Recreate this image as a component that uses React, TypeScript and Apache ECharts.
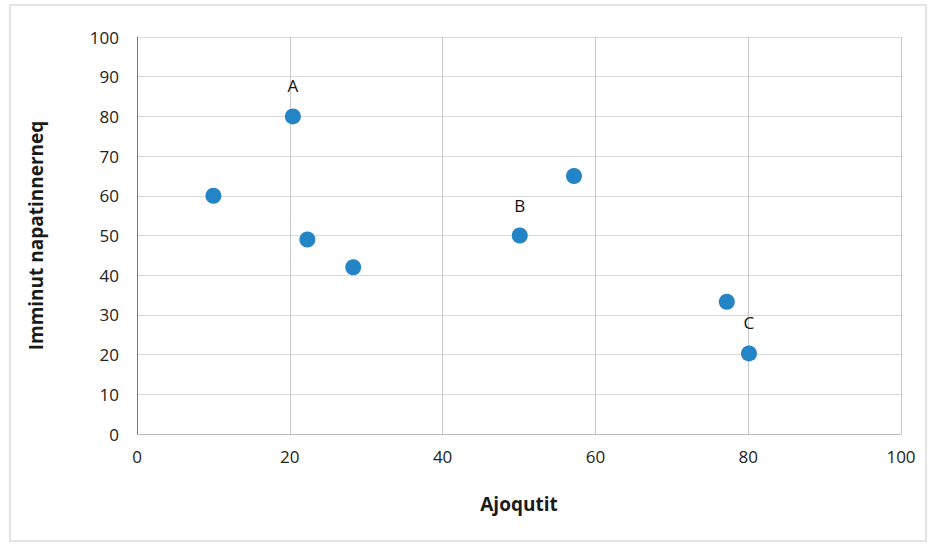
import React, { useEffect, useRef } from "react";
import * as echarts from "echarts";

const xValues = [10, 20.4, 22.3, 28.3, 50.1, 57.2, 77.2, 80.1];
const yValues = [60, 80, 49, 42, 50, 65, 33.3, 20.3];
const pointLabels = ["", "A", "", "", "B", "", "", "C"];
const xTitle = "Ajoqutit";
const yTitle = "Imminut napatinnerneq";

export default function App() {
  const ref = useRef<HTMLDivElement>(null);
  useEffect(() => {
    if (!ref.current) return;
    const chart = echarts.init(ref.current, null, { renderer: "svg" });
    const data = xValues.map((x, i) => ({
      value: [x, yValues[i]],
      label: {
        show: pointLabels[i] !== "",
        formatter: pointLabels[i],
      },
    }));
    chart.setOption({
      animation: false,
      backgroundColor: "#fff",
      textStyle: { fontFamily: "Open Sans" },
      graphic: [
        {
          type: "rect",
          shape: { x: 10, y: 5, width: 916, height: 536 },
          style: { fill: "none", stroke: "#dcdcdc", lineWidth: 1.5 },
          silent: true,
        },
      ],
      grid: { left: 137, right: 36, top: 37, bottom: 115, containLabel: false },
      xAxis: {
        type: "value",
        min: 0,
        max: 100,
        interval: 20,
        name: xTitle,
        nameLocation: "middle",
        nameGap: 60,
        nameTextStyle: { fontSize: 19, fontWeight: "bold", color: "#1a1a1a", fontFamily: "Open Sans" },
        axisLine: { show: true, lineStyle: { color: "#bfbfbf", width: 1 } },
        axisTick: { show: false },
        axisLabel: { fontSize: 17, color: "#222", margin: 14 },
        splitLine: { show: true, lineStyle: { color: "#c8c8c8", width: 1 } },
      },
      yAxis: {
        type: "value",
        min: 0,
        max: 100,
        interval: 10,
        name: yTitle,
        nameLocation: "middle",
        nameGap: 92,
        nameTextStyle: { fontSize: 19, fontWeight: "bold", color: "#1a1a1a", fontFamily: "Open Sans" },
        axisLine: { show: true, lineStyle: { color: "#777", width: 1 } },
        axisTick: { show: false },
        axisLabel: { fontSize: 17, color: "#222", margin: 18 },
        splitLine: { show: true, lineStyle: { color: "#dadada", width: 1 } },
      },
      series: [
        {
          type: "scatter",
          symbol: "circle",
          symbolSize: 16,
          itemStyle: { color: "#2384c6", opacity: 1 },
          label: {
            position: "top",
            distance: 14,
            fontSize: 17,
            color: "#111",
            fontFamily: "Open Sans",
          },
          data,
        },
      ],
    });
    return () => chart.dispose();
  }, []);
  return (
    <div
      ref={ref}
      style={{ position: "absolute", left: 0, top: 0, width: 937, height: 549 }}
    />
  );
}
